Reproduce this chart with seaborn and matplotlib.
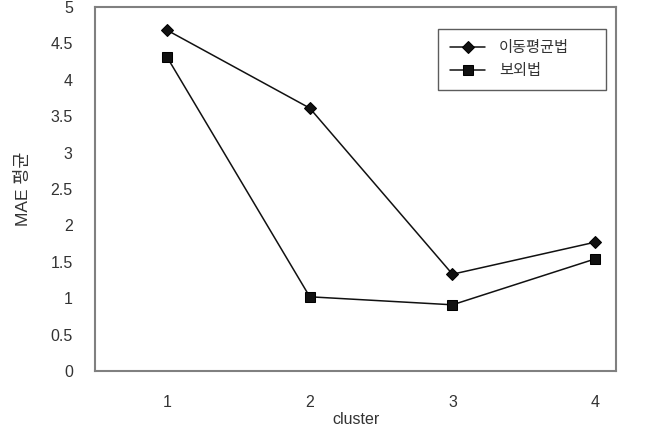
import pandas as pd
import matplotlib
matplotlib.use("Agg")
import matplotlib.pyplot as plt
import seaborn as sns

clusters = [1, 2, 3, 4]
moving_avg = [4.68, 3.61, 1.33, 1.77]
extrap = [4.31, 1.02, 0.91, 1.54]
series_names = ["이동평균법", "보외법"]

df = pd.DataFrame({
    "cluster": clusters * 2,
    "mae": moving_avg + extrap,
    "method": [series_names[0]] * 4 + [series_names[1]] * 4,
})

sns.set_style("white")
plt.rcParams['font.family'] = ['Liberation Sans', 'Noto Sans CJK KR', 'DejaVu Sans']
plt.rcParams['font.size'] = 11

fig = plt.figure(figsize=(6.69, 4.30), dpi=100)
ax = fig.add_axes([0.142, 0.137, 0.779, 0.847])

sns.lineplot(data=df, x="cluster", y="mae", style="method", hue="method",
             palette=["#111111", "#111111"], markers=["D", "s"], dashes=False,
             markersize=6.5, linewidth=1.1, markeredgecolor="black", ax=ax)

ax.set_xlim(0.495, 4.147)
ax.set_ylim(0, 5)
ax.set_xticks(clusters)
ax.set_yticks([0, 0.5, 1, 1.5, 2, 2.5, 3, 3.5, 4, 4.5, 5])
ax.set_yticklabels(["0", "0.5", "1", "1.5", "2", "2.5", "3", "3.5", "4", "4.5", "5"])
ax.tick_params(axis='y', direction='in', length=6, width=1, color='#808080', pad=16, labelsize=11.5, labelcolor='#333333')
ax.tick_params(axis='x', length=0, pad=17, labelsize=11.5, labelcolor='#333333')
for sp in ax.spines.values():
    sp.set_color('#808080')
    sp.set_linewidth(1.5)

ax.set_xlabel("cluster", fontsize=11.5, labelpad=2, color='#333333')
ax.set_ylabel("MAE 평균", fontsize=12.5, labelpad=14, color='#333333')

# legend box sized to match the reference
leg = ax.legend(loc='upper left', bbox_to_anchor=(0.658, 0.5, 0.322, 0.4396), mode='expand',
                borderaxespad=0, frameon=True, fancybox=False,
                edgecolor='#333333', fontsize=11, handlelength=2.3, handletextpad=0.9,
                borderpad=0.8, labelspacing=0.6)
leg.get_frame().set_linewidth(1.0)
for t in leg.get_texts():
    t.set_color('#333333')

fig.savefig("out.png", dpi=100)
